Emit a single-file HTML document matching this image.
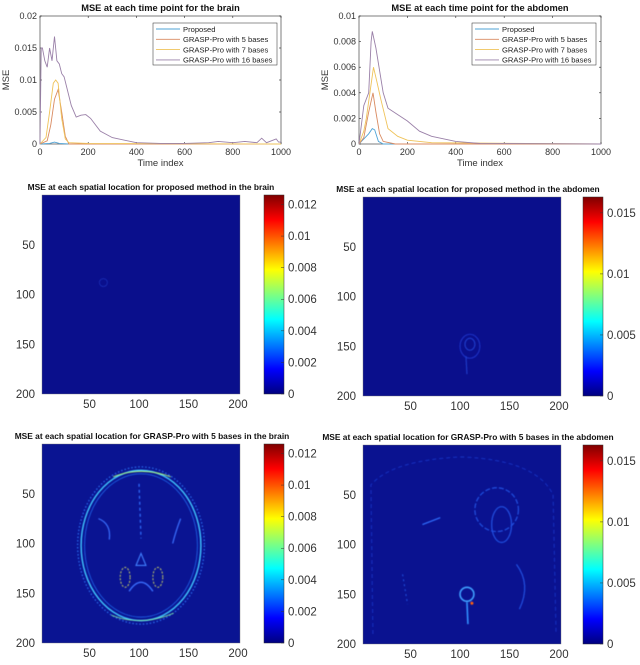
<!DOCTYPE html>
<html><head><meta charset="utf-8"><style>
html,body{margin:0;padding:0;background:#fff;}
svg{display:block;font-family:"Liberation Sans",Arial,sans-serif;}
</style></head><body>
<svg id="fig" width="640" height="665" viewBox="0 0 640 665">
<defs>
<linearGradient id="jet" x1="0" y1="1" x2="0" y2="0">
<stop offset="0" stop-color="#00007f"/><stop offset="0.125" stop-color="#0000ff"/>
<stop offset="0.375" stop-color="#00ffff"/><stop offset="0.625" stop-color="#ffff00"/>
<stop offset="0.875" stop-color="#ff0000"/><stop offset="1" stop-color="#7f0000"/>
</linearGradient>
<filter id="blur"><feGaussianBlur stdDeviation="0.6"/></filter>
</defs>
</svg>
<script>
const NS="http://www.w3.org/2000/svg";
const svg=document.getElementById('fig');
function el(tag,attrs,parent,text){const e=document.createElementNS(NS,tag);for(const k in attrs)e.setAttribute(k,attrs[k]);if(text!==undefined)e.textContent=text;(parent||svg).appendChild(e);return e;}

// ===== Line chart data =====
const seriesNames=["Proposed","GRASP-Pro with 5 bases","GRASP-Pro with 7 bases","GRASP-Pro with 16 bases"];
const seriesColors=["#4fa3d6","#d98a60","#efc35a","#9a80a8"];
const xTicks=[0,200,400,600,800,1000];
const brainYTicks=[0,0.005,0.01,0.015,0.02];
const abdYTicks=[0,0.002,0.004,0.006,0.008,0.01];
const brainProposedT=[0,40,60,80,120,1000];
const brainProposedV=[0,0.0001,0.0003,0.0001,0,0];
const brain5T=[0,30,45,60,75,90,105,120,1000];
const brain5V=[0,0.0005,0.003,0.007,0.0085,0.005,0.0012,0,0];
const brain7T=[0,25,40,55,65,75,90,105,120,200,1000];
const brain7V=[0,0.001,0.005,0.0095,0.01,0.0095,0.004,0.0008,0.0002,0.0001,0];
const brain16T=[0,5,10,20,30,40,50,60,70,80,90,100,110,130,150,170,190,210,250,300,400,500,600,700,740,800,850,900,920,940,980,990,1000];
const brain16V=[0,0.015,0.015,0.013,0.012,0.015,0.013,0.0168,0.013,0.0125,0.011,0.0105,0.009,0.006,0.0042,0.0045,0.0046,0.004,0.002,0.001,0.0002,0.0001,0.0001,0.0002,0.0004,0.0002,0.0004,0.0002,0.0009,0.0002,0.0008,0.0003,0.0003];
const abdProposedT=[0,40,55,65,80,100,1000];
const abdProposedV=[0,0.0008,0.0012,0.0011,0.0002,0,0];
const abd5T=[0,20,40,58,70,85,100,150,1000];
const abd5V=[0,0.0005,0.0025,0.004,0.0025,0.0008,0.0002,0,0];
const abd7T=[0,20,30,45,60,75,90,120,160,200,300,1000];
const abd7V=[0,0.001,0.002,0.004,0.006,0.0048,0.0035,0.0012,0.0006,0.0003,0.0001,0];
const abd16T=[0,10,20,40,50,55,70,100,120,200,250,300,400,500,1000];
const abd16V=[0,0.0015,0.003,0.004,0.008,0.0088,0.0075,0.004,0.0028,0.0018,0.001,0.0006,0.0002,0.00005,0];

function lineChart(o){
  const g=el('g',{},svg);
  
  
  const L=o.x0,R=o.x1,T=o.y0,B=o.y1;
  const sx=v=>L+(v/1000)*(R-L), sy=v=>B-(v/o.ymax)*(B-T);
  el('rect',{x:L,y:T,width:R-L,height:B-T,fill:'#fff',stroke:'#262626','stroke-width':0.6},g);
  const t=el('text',{x:(L+R)/2,y:T-5,'text-anchor':'middle','font-size':9.3,'font-weight':'bold',fill:'#111'},g,o.title);
  
  
  xTicks.forEach(v=>{const x=sx(v);el('line',{x1:x,y1:B,x2:x,y2:B-2,stroke:'#262626','stroke-width':0.6},g);el('line',{x1:x,y1:T,x2:x,y2:T+2,stroke:'#262626','stroke-width':0.6},g);
    const tl=el('text',{x:x,y:B+11,'text-anchor':'middle','font-size':9,fill:'#333'},g,String(v));
    
    });
  o.yTicks.forEach(v=>{const y=sy(v);el('line',{x1:L,y1:y,x2:L+2,y2:y,stroke:'#262626','stroke-width':0.6},g);el('line',{x1:R,y1:y,x2:R-2,y2:y,stroke:'#262626','stroke-width':0.6},g);
    const tl=el('text',{x:L-3,y:y+3,'text-anchor':'end','font-size':9,fill:'#333'},g,String(v));
    
    });
  const xl=el('text',{x:(L+R)/2,y:B+22,'text-anchor':'middle','font-size':9.5,fill:'#333'},g,'Time index');
  
  
  const yl=el('text',{x:0,y:0,'text-anchor':'middle','font-size':9.5,fill:'#333',transform:`translate(${L-31},${(T+B)/2}) rotate(-90)`},g,'MSE');
  
  
  o.series.forEach((s,i)=>{
    const d=s.t.map((tv,k)=>(k?'L':'M')+sx(tv).toFixed(1)+','+sy(s.v[k]).toFixed(1)).join('');
    const p=el('path',{d:d,fill:'none',stroke:seriesColors[i],'stroke-width':0.9},g);
    
    
  });
  const lg=el('g',{},g);
  
  
  el('rect',{x:o.lx,y:23,width:124,height:42,fill:'#fff',stroke:'#262626','stroke-width':0.5},lg);
  seriesNames.forEach((n,i)=>{const y=29+i*10.3;
    el('line',{x1:o.lx+3,y1:y,x2:o.lx+27,y2:y,stroke:seriesColors[i],'stroke-width':0.9},lg);
    const e=el('text',{x:o.lx+30,y:y+2.8,'font-size':7.6,fill:'#222'},lg,n);
    
    });
}
lineChart({name:'brain-time-chart',title:'MSE at each time point for the brain',x0:40,x1:281,y0:16,y1:144,ymax:0.02,yTicks:brainYTicks,lx:153,
  series:[{t:brainProposedT,v:brainProposedV},{t:brain5T,v:brain5V},{t:brain7T,v:brain7V},{t:brain16T,v:brain16V}]});
lineChart({name:'abdomen-time-chart',title:'MSE at each time point for the abdomen',x0:359,x1:601,y0:16,y1:144,ymax:0.01,yTicks:abdYTicks,lx:472,
  series:[{t:abdProposedT,v:abdProposedV},{t:abd5T,v:abd5V},{t:abd7T,v:abd7V},{t:abd16T,v:abd16V}]});

// ===== Heatmaps =====
const imgTicks=[50,100,150,200];
const brainCbTicks=[0,0.002,0.004,0.006,0.008,0.01,0.012];
const abdCbTicks=[0,0.005,0.01,0.015];

function heat(o){
  const g=el('g',{},svg);
  
  
  const L=o.x0,T=o.y0,W=198,H=199;
  const sx=v=>L+v/200*W, sy=v=>T+v/200*H;
  const t=el('text',{x:o.tx,y:T-5,'text-anchor':'middle','font-size':8.4,'font-weight':'bold',fill:'#111'},g,o.title);
  
  
  el('rect',{x:L,y:T,width:W,height:H,fill:o.bg},g);
  const cg=el('g',{filter:'url(#blur)'},g);
  o.draw(cg,sx,sy);
  el('rect',{x:L,y:T,width:W,height:H,fill:'none',stroke:'#777','stroke-width':0.4},g);
  imgTicks.forEach(v=>{
    const a=el('text',{x:sx(v)-2,y:T+H+14,'text-anchor':'middle','font-size':11.5,fill:'#333'},g,String(v));
    
    
    const b=el('text',{x:L-7,y:sy(v)+4,'text-anchor':'end','font-size':11.5,fill:'#333'},g,String(v));
    
    });
  const cb=el('g',{},g);
  
  
  const cx=o.cbx,cT=T,cB=T+H;
  el('rect',{x:cx,y:cT,width:20,height:cB-cT,fill:'url(#jet)',stroke:'#333','stroke-width':0.5},cb);
  o.cbTicks.forEach(v=>{const y=cB-(v/o.cmax)*(cB-cT);
    el('line',{x1:cx+17,y1:y,x2:cx+20,y2:y,stroke:'#333','stroke-width':0.5},cb);
    const e=el('text',{x:cx+24,y:y+4,'font-size':11.5,fill:'#333'},cb,String(v));
    
    });
}
function ell(g,sx,sy,cx,cy,rx,ry,col,w,dash){const a={cx:sx(cx),cy:sy(cy),rx:rx*0.99,ry:ry*0.995,fill:'none',stroke:col,'stroke-width':w};if(dash)a['stroke-dasharray']=dash;return el('ellipse',a,g);}
function pth(g,d,col,w,dash){const a={d:d,fill:'none',stroke:col,'stroke-width':w};if(dash)a['stroke-dasharray']=dash;return el('path',a,g);}

heat({name:'brain-proposed-heatmap',title:'MSE at each spatial location for proposed method in the brain',x0:42,y0:195,tx:151,cbx:264,cmax:0.0126,cbTicks:brainCbTicks,bg:'#0a0f8c',
  draw:(g,sx,sy)=>{ell(g,sx,sy,62,88,4,4,'#1a2ab0',1);}});
heat({name:'abdomen-proposed-heatmap',title:'MSE at each spatial location for proposed method in the abdomen',x0:363,y0:197,tx:468,cbx:583,cmax:0.0163,cbTicks:abdCbTicks,bg:'#0a0f8c',
  draw:(g,sx,sy)=>{ell(g,sx,sy,108,150,10,12,'#1a2ec0',1.2);ell(g,sx,sy,108,148,5,6,'#2040d0',1);pth(g,`M${sx(104)},${sy(160)}L${sx(105)},${sy(178)}`,'#2040d0',1);}});
heat({name:'brain-grasp5-heatmap',title:'MSE at each spatial location for GRASP-Pro with 5 bases in the brain',x0:42,y0:444,tx:152,cbx:264,cmax:0.0126,cbTicks:brainCbTicks,bg:'#0a1492',
  draw:(g,sx,sy)=>{
    ell(g,sx,sy,100,102,64,79,'#2a6cf0',1.2,'1.5 2');
    ell(g,sx,sy,100,102,60.5,75.5,'#40c8ff',1.4);
    ell(g,sx,sy,100,102,57,72,'#1f5ce0',0.9);
    pth(g,`M${sx(72)},${sy(33)}Q${sx(100)},${sy(22)} ${sx(130)},${sy(33)}`,'#a0f070',0.9);
    pth(g,`M${sx(70)},${sy(172)}Q${sx(100)},${sy(184)} ${sx(133)},${sy(170)}`,'#80f0a0',0.8);
    pth(g,`M${sx(98)},${sy(40)}L${sx(100)},${sy(95)}`,'#3070ff',1.2,'3 3');
    pth(g,`M${sx(57)},${sy(75)}Q${sx(70)},${sy(80)} ${sx(68)},${sy(96)}`,'#3a70ff',1.2);
    pth(g,`M${sx(140)},${sy(75)}Q${sx(135)},${sy(88)} ${sx(132)},${sy(100)}`,'#3a70ff',1.2);
    ell(g,sx,sy,84,134,5,10,'#d8e060',0.9,'2 1.5');
    ell(g,sx,sy,117,134,5,10,'#d8e060',0.9,'2 1.5');
    pth(g,`M${sx(95)},${sy(122)}L${sx(100)},${sy(110)}L${sx(105)},${sy(122)}Z`,'#4080ff',1.1);
    pth(g,`M${sx(88)},${sy(148)}Q${sx(100)},${sy(130)} ${sx(112)},${sy(148)}`,'#3a70ff',1.4);
  }});
heat({name:'abdomen-grasp5-heatmap',title:'MSE at each spatial location for GRASP-Pro with 5 bases in the abdomen',x0:363,y0:445,tx:468,cbx:583,cmax:0.0163,cbTicks:abdCbTicks,bg:'#0a1290',
  draw:(g,sx,sy)=>{
    pth(g,`M${sx(10)},${sy(190)}L${sx(8)},${sy(40)}Q${sx(30)},${sy(15)} ${sx(100)},${sy(12)}Q${sx(175)},${sy(15)} ${sx(192)},${sy(50)}L${sx(195)},${sy(190)}`,'#1830c0',1,'4 3');
    ell(g,sx,sy,135,65,22,22,'#2050e0',1.2,'5 2');
    ell(g,sx,sy,140,80,10,18,'#2050e0',1.2);
    pth(g,`M${sx(60)},${sy(80)}L${sx(78)},${sy(73)}`,'#3070ff',1.2);
    ell(g,sx,sy,105,150,7,7,'#40a0ff',1.6);
    pth(g,`M${sx(105)},${sy(158)}L${sx(106)},${sy(180)}`,'#3090ff',1.6);
    el('circle',{cx:sx(110),cy:sy(159),r:1.5,fill:'#ff6010'},g);
    pth(g,`M${sx(155)},${sy(120)}Q${sx(170)},${sy(140)} ${sx(158)},${sy(165)}`,'#2050e0',1.2);
    pth(g,`M${sx(40)},${sy(130)}L${sx(45)},${sy(160)}`,'#2050e0',1,'2 3');
  }});
</script>
</body></html>
